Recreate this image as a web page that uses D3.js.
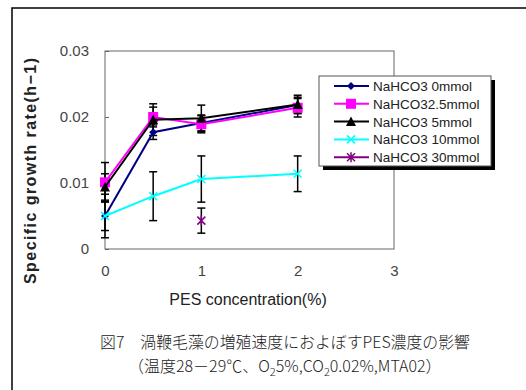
<!DOCTYPE html>
<html>
<head>
<meta charset="utf-8">
<script src="https://cdn.jsdelivr.net/npm/d3@7"></script>
<style>
  body { margin: 0; background: #fff; }
  svg { display: block; }
</style>
</head>
<body>
<div id="chart"></div>
<script>
// data
const concentrations = [0, 0.5, 1, 2];
const seriesNames = ["NaHCO3 0mmol", "NaHCO32.5mmol", "NaHCO3 5mmol", "NaHCO3 10mmol", "NaHCO3 30mmol"];
const rate0 = [0.0050, 0.0177, 0.0191, 0.0218];
const rate25 = [0.0101, 0.0200, 0.0189, 0.0214];
const rate5 = [0.0094, 0.0196, 0.0198, 0.0219];
const rate10 = [0.0050, 0.0080, 0.0106, 0.0114];
const rate30 = [null, null, 0.0043, null];
const err0 = [0.0022, 0.0011, 0.0012, 0.0012];
const err25 = [0.0030, 0.0015, 0.0013, 0.0014];
const err5 = [0.0020, 0.0024, 0.0020, 0.0014];
const err10 = [0.0033, 0.0037, 0.0035, 0.0027];
const err30 = [null, null, 0.0019, null];
const xTicks = [0, 1, 2, 3];
const yTicks = [0, 0.01, 0.02, 0.03];

const W = 526, H = 390;
const svg = d3.select("#chart").append("svg").attr("width", W).attr("height", H);

// outer frame
svg.append("rect").attr("x", 12).attr("y", 8).attr("width", 530).attr("height", 400)
  .attr("fill", "none").attr("stroke", "#000").attr("stroke-width", 1.5);

const plot = { left: 105, top: 51, right: 394, bottom: 249 };
const x = d3.scaleLinear().domain([0, 3]).range([plot.left, plot.right]);
const y = d3.scaleLinear().domain([0, 0.03]).range([plot.bottom, plot.top]);

const latin = "'Liberation Sans', Arial, sans-serif";

// plot frame
svg.append("rect").attr("x", plot.left).attr("y", plot.top)
  .attr("width", plot.right - plot.left).attr("height", plot.bottom - plot.top)
  .attr("fill", "#fff").attr("stroke", "#666").attr("stroke-width", 1);

// axes with inward ticks
const yAxis = d3.axisLeft(y).tickValues(yTicks).tickSize(-4).tickPadding(16)
  .tickFormat(d => d === 0 ? "0" : d3.format(".2f")(d));
const gy = svg.append("g").attr("transform", `translate(${plot.left},0)`).call(yAxis);
gy.select(".domain").remove();
gy.selectAll("line").attr("stroke", "#666");
gy.selectAll("text").attr("font-family", latin).attr("font-size", 15).attr("fill", "#444");

const xAxis = d3.axisBottom(x).tickValues(xTicks).tickSize(0).tickPadding(16).tickFormat(d3.format("d"));
const gx = svg.append("g").attr("transform", `translate(0,${plot.bottom})`).call(xAxis);
gx.select(".domain").remove();
gx.selectAll("text").attr("font-family", latin).attr("font-size", 15).attr("fill", "#444");

// axis titles
svg.append("text").attr("x", 248).attr("y", 305).attr("text-anchor", "middle")
  .attr("font-family", latin).attr("font-size", 16).attr("fill", "#222")
  .text("PES concentration(%)");
svg.append("text").attr("transform", "translate(36,171) rotate(-90)").attr("text-anchor", "middle")
  .attr("font-family", latin).attr("font-size", 16).attr("font-weight", "bold").attr("fill", "#222")
  .attr("textLength", 226).attr("lengthAdjust", "spacing")
  .text("Specific growth rate(h−1)");

// series
const series = [
  { name: seriesNames[0], values: rate0, errs: err0, color: "#000080", marker: "diamond" },
  { name: seriesNames[1], values: rate25, errs: err25, color: "#ff00ff", marker: "square" },
  { name: seriesNames[2], values: rate5, errs: err5, color: "#000000", marker: "triangle" },
  { name: seriesNames[3], values: rate10, errs: err10, color: "#00ffff", marker: "cross" },
  { name: seriesNames[4], values: rate30, errs: err30, color: "#800080", marker: "star" }
];

function drawMarker(g, type, color) {
  if (type === "diamond") {
    g.append("path").attr("d", "M0,-4L4,0L0,4L-4,0Z").attr("fill", color);
  } else if (type === "square") {
    g.append("rect").attr("x", -5).attr("y", -5).attr("width", 10).attr("height", 10).attr("fill", color);
  } else if (type === "triangle") {
    g.append("path").attr("d", "M0,-5L5,4.5L-5,4.5Z").attr("fill", color);
  } else if (type === "cross") {
    g.append("path").attr("d", "M-4,-4L4,4M-4,4L4,-4").attr("stroke", color).attr("stroke-width", 1.5);
  } else if (type === "star") {
    g.append("path").attr("d", "M-4,-4L4,4M-4,4L4,-4M0,-5L0,5").attr("stroke", color).attr("stroke-width", 1.5);
  }
}

// error bars first
const eg = svg.append("g");
series.forEach(s => {
  s.values.forEach((v, i) => {
    if (v === null) return;
    const e = s.errs[i];
    const cx = x(concentrations[i]);
    const y1 = y(v + e), y2 = y(v - e);
    eg.append("line").attr("x1", cx).attr("x2", cx).attr("y1", y1).attr("y2", y2)
      .attr("stroke", "#000").attr("stroke-width", 1.5);
    [y1, y2].forEach(yy => eg.append("line").attr("x1", cx - 4).attr("x2", cx + 4)
      .attr("y1", yy).attr("y2", yy).attr("stroke", "#000").attr("stroke-width", 1.5));
  });
});

const line = d3.line().defined(d => d.v !== null).x(d => x(d.c)).y(d => y(d.v));
series.forEach(s => {
  const pts = s.values.map((v, i) => ({ c: concentrations[i], v: v }));
  svg.append("path").datum(pts).attr("d", line).attr("fill", "none")
    .attr("stroke", s.color).attr("stroke-width", 2);
  pts.filter(p => p.v !== null).forEach(p => {
    const g = svg.append("g").attr("transform", `translate(${x(p.c)},${y(p.v)})`);
    drawMarker(g, s.marker, s.color);
  });
});

// legend
const lg = svg.append("g").attr("transform", "translate(319,76)");
lg.append("rect").attr("x", 4).attr("y", 4).attr("width", 172).attr("height", 90).attr("fill", "#000");
lg.append("rect").attr("x", 0).attr("y", 0).attr("width", 172).attr("height", 90)
  .attr("fill", "#fff").attr("stroke", "#555").attr("stroke-width", 1);
series.forEach((s, i) => {
  const yy = 10 + i * 17.8;
  lg.append("line").attr("x1", 15).attr("x2", 50).attr("y1", yy).attr("y2", yy)
    .attr("stroke", s.color).attr("stroke-width", 2);
  drawMarker(lg.append("g").attr("transform", `translate(32,${yy})`), s.marker, s.color);
  lg.append("text").attr("x", 54).attr("y", yy + 5).attr("font-family", latin)
    .attr("font-size", 13.5).attr("fill", "#222").text(s.name);
});

// caption
const jp = "'Noto Sans CJK JP', sans-serif";
svg.append("text").attr("x", 100).attr("y", 348).attr("font-family", jp).attr("font-size", 16)
  .attr("font-weight", 300).attr("fill", "#222")
  .attr("textLength", 370).attr("lengthAdjust", "spacingAndGlyphs")
  .text("図7　渦鞭毛藻の増殖速度におよぼすPES濃度の影響");
const cap2 = svg.append("text").attr("x", 128).attr("y", 372).attr("font-family", jp).attr("font-size", 16)
  .attr("font-weight", 300).attr("fill", "#222");
cap2.append("tspan").text("（温度28－29℃、O");
cap2.append("tspan").attr("dy", 4).attr("font-size", 11).text("2");
cap2.append("tspan").attr("dy", -4).text("5%,CO");
cap2.append("tspan").attr("dy", 4).attr("font-size", 11).text("2");
cap2.append("tspan").attr("dy", -4).text("0.02%,MTA02）");
</script>
</body>
</html>
